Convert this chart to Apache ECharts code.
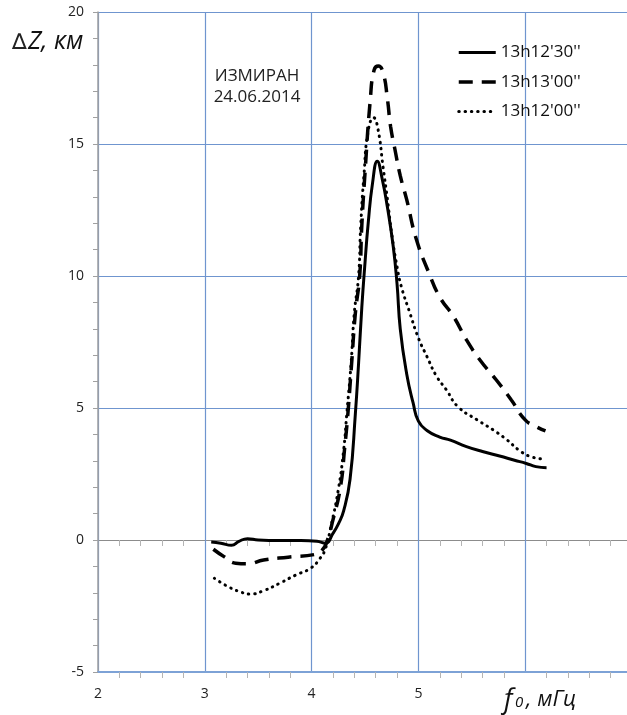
<!DOCTYPE html>
<html>
<head>
<meta charset="utf-8">
<script src="https://cdn.jsdelivr.net/npm/echarts@6/dist/echarts.min.js"></script>
<style>
    html, body { margin: 0; padding: 0; background: #fff; }
    #chart { width: 627px; height: 715px; }
</style>
</head>
<body>
<div id="chart"></div>
<script>
// 13h12'30''
let fSolid = [3.06, 3.15, 3.25, 3.32, 3.4, 3.5, 3.7, 3.9, 4.05, 4.13, 4.2, 4.25, 4.3, 4.36, 4.41, 4.44, 4.47, 4.5, 4.53, 4.57, 4.615, 4.66, 4.71, 4.765, 4.8, 4.83, 4.89, 4.95, 5.0, 5.08, 5.2, 5.3, 5.45, 5.6, 5.76, 5.9, 6.01, 6.1, 6.2];
let zSolid = [-0.08, -0.12, -0.2, -0.05, 0.05, 0.0, -0.02, -0.02, -0.05, -0.12, 0.25, 0.6, 1.1, 2.3, 4.8, 6.7, 8.8, 10.5, 12.0, 13.5, 14.35, 13.7, 12.6, 11.1, 9.7, 8.0, 6.3, 5.2, 4.5, 4.15, 3.9, 3.78, 3.54, 3.35, 3.18, 3.02, 2.9, 2.78, 2.74];
// 13h13'00''
let fDashed = [3.08, 3.18, 3.29, 3.4, 3.55, 3.78, 4.04, 4.1, 4.14, 4.2, 4.27, 4.31, 4.34, 4.375, 4.41, 4.45, 4.47, 4.5, 4.55, 4.585, 4.625, 4.67, 4.71, 4.74, 4.78, 4.83, 4.89, 4.98, 5.1, 5.2, 5.33, 5.45, 5.58, 5.73, 5.87, 6.0, 6.1, 6.19];
let zDashed = [-0.35, -0.63, -0.88, -0.9, -0.76, -0.65, -0.54, -0.38, -0.1, 0.76, 2.0, 3.5, 4.8, 6.7, 8.6, 10.0, 11.9, 13.9, 16.7, 17.8, 17.95, 17.7, 16.7, 15.65, 14.8, 13.8, 12.9, 11.4, 10.1, 9.2, 8.46, 7.58, 6.8, 6.06, 5.3, 4.55, 4.3, 4.13];
// 13h12'00''
let fDotted = [3.09, 3.22, 3.33, 3.42, 3.55, 3.7, 3.85, 3.99, 4.08, 4.13, 4.18, 4.25, 4.3, 4.33, 4.37, 4.4, 4.44, 4.46, 4.49, 4.53, 4.58, 4.62, 4.67, 4.71, 4.75, 4.8, 4.84, 4.92, 5.0, 5.08, 5.17, 5.26, 5.37, 5.55, 5.7, 5.83, 5.94, 6.05, 6.19];
let zDotted = [-1.45, -1.77, -1.96, -2.05, -1.92, -1.64, -1.33, -1.07, -0.69, -0.32, 0.5, 1.9, 3.4, 4.8, 6.7, 8.6, 10.0, 11.9, 13.8, 15.5, 16.0, 15.6, 14.1, 12.9, 11.6, 10.35, 9.6, 8.6, 7.65, 6.95, 6.2, 5.7, 5.05, 4.55, 4.17, 3.79, 3.41, 3.16, 3.06];

let seriesNames = ["13h12'30''", "13h13'00''", "13h12'00''"];
let xTickLabels = ['2', '3', '4', '5'];
let yTickLabels = ['-5', '0', '5', '10', '15', '20'];

function toPairs(xs, ys) {
    return xs.map(function (x, i) { return [x, ys[i]]; });
}

let blue = '#6f95cf';
let gray = '#a0a0a0';
let font = 'Open Sans';

// 线型：实线、虚线、点线
let solidStyle = { color: '#000', width: 3, type: 'solid' };
let dashedStyle = { color: '#000', width: 3.5, type: [14, 9] };
let dottedStyle = { color: '#000', width: 3, type: [0.5, 5.8], cap: 'round' };
let hiddenSymbol = { color: 'rgba(0,0,0,0)', borderWidth: 0, opacity: 0 };

let myChart = echarts.init(document.getElementById('chart'));

let option = {
    animation: false,
    backgroundColor: '#fff',
    grid: {
        left: 98,
        right: -5,
        top: 12,
        bottom: 43,
        containLabel: false,
        outerBoundsMode: 'none'
    },
    legend: {
        orient: 'vertical',
        left: 457,
        top: 44,
        padding: 0,
        itemWidth: 37,
        itemHeight: 14,
        itemGap: 12.5,
        itemStyle: hiddenSymbol,
        data: [
            { name: seriesNames[0], lineStyle: solidStyle, itemStyle: hiddenSymbol },
            { name: seriesNames[1], lineStyle: dashedStyle, itemStyle: hiddenSymbol },
            { name: seriesNames[2], lineStyle: dottedStyle, itemStyle: hiddenSymbol }
        ],
        textStyle: { fontFamily: font, fontSize: 17, color: '#111' }
    },
    xAxis: [
        {
            type: 'value',
            min: 2,
            max: 7,
            interval: 1,
            position: 'bottom',
            axisLine: { show: true, onZero: false, lineStyle: { color: '#7da2d6', width: 2 } },
            axisTick: { show: false },
            minorTick: { show: true, splitNumber: 5, length: 6, lineStyle: { color: '#b4b4b4', width: 1 } },
            axisLabel: {
                fontFamily: font,
                fontSize: 14,
                color: '#222',
                margin: 15,
                formatter: function (v) {
                    return xTickLabels.indexOf(String(v)) >= 0 ? String(v) : '';
                }
            },
            splitLine: { show: true, lineStyle: { color: blue, width: 1.2 } }
        },
        {
            type: 'value',
            min: 2,
            max: 7,
            interval: 1,
            position: 'top',
            axisLine: { show: false },
            axisTick: { show: false, inside: true },
            minorTick: { show: true, splitNumber: 5, length: 6, lineStyle: { color: '#b4b4b4', width: 1 } },
            axisLabel: { show: false },
            splitLine: { show: false }
        }
    ],
    yAxis: {
        type: 'value',
        min: -5,
        max: 20,
        interval: 5,
        axisLine: { show: true, onZero: false, lineStyle: { color: gray, width: 1.5 } },
        axisTick: { show: true, length: 5, lineStyle: { color: gray } },
        minorTick: { show: true, splitNumber: 5, length: 5, lineStyle: { color: gray } },
        axisLabel: {
            fontFamily: font,
            fontSize: 14,
            color: '#222',
            margin: 14,
            formatter: function (v) {
                return yTickLabels.indexOf(String(v)) >= 0 ? String(v) : '';
            }
        },
        splitLine: {
            show: true,
            lineStyle: { color: ['#7da2d6', '#8c8c8c', blue, blue, blue, blue], width: 1.2 }
        }
    },
    series: [
        {
            name: seriesNames[0],
            type: 'line',
            data: toPairs(fSolid, zSolid),
            symbol: 'none',
            smooth: 0.5,
            z: 5,
            lineStyle: solidStyle,
            itemStyle: { color: '#000' }
        },
        {
            name: seriesNames[1],
            type: 'line',
            data: toPairs(fDashed, zDashed),
            symbol: 'none',
            smooth: 0.5,
            z: 4,
            lineStyle: dashedStyle,
            itemStyle: { color: '#000' }
        },
        {
            name: seriesNames[2],
            type: 'line',
            data: toPairs(fDotted, zDotted),
            symbol: 'none',
            smooth: 0.5,
            z: 3,
            lineStyle: dottedStyle,
            itemStyle: { color: '#000' }
        }
    ],
    graphic: [
        {
            type: 'text',
            x: 257,
            y: 87,
            style: {
                text: 'ИЗМИРАН\n24.06.2014',
                font: '17px "Open Sans"',
                fill: '#222',
                align: 'center',
                verticalAlign: 'middle',
                lineHeight: 21
            }
        },
        {
            type: 'text',
            x: 12,
            y: 43,
            style: { text: '∆', font: '22px "DejaVu Sans"', fill: '#222', verticalAlign: 'middle' }
        },
        {
            type: 'text',
            x: 28,
            y: 42,
            style: { text: 'Z, км', font: 'italic 25px "Open Sans"', fill: '#111', verticalAlign: 'middle' }
        },
        {
            type: 'text',
            x: 504,
            y: 700,
            style: { text: 'f', font: 'italic 27px "Open Sans"', fill: '#111', verticalAlign: 'middle' }
        },
        {
            type: 'text',
            x: 515,
            y: 703,
            style: { text: '0', font: 'italic 15px "Open Sans"', fill: '#111', verticalAlign: 'middle' }
        },
        {
            type: 'text',
            x: 526,
            y: 700,
            style: { text: ', мГц', font: 'italic 22px "Open Sans"', fill: '#111', verticalAlign: 'middle' }
        }
    ]
};
myChart.setOption(option);
</script>
</body>
</html>
